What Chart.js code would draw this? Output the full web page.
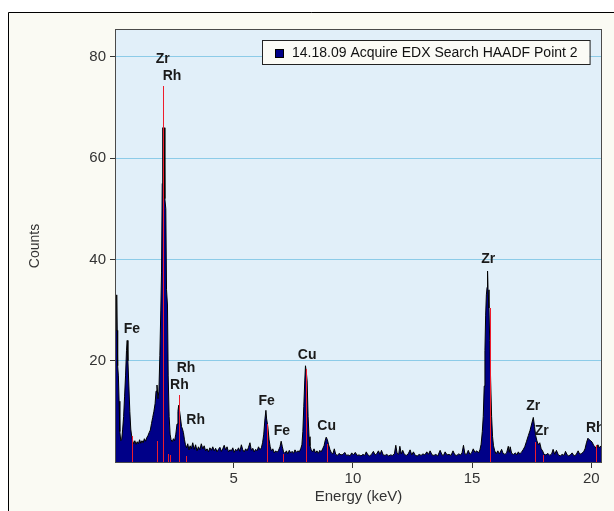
<!DOCTYPE html>
<html><head><meta charset="utf-8">
<script src="https://cdn.jsdelivr.net/npm/chart.js@4/dist/chart.umd.min.js"></script>
<style>html,body{margin:0;padding:0;background:#fff;overflow:hidden}
#wrap{position:absolute;left:0;top:0;width:614px;height:511px}</style>
</head><body><div id="wrap"><canvas id="c" width="614" height="511"></canvas></div>
<script>
// ---- data ----
const seriesName = '14.18.09 Acquire EDX Search HAADF Point 2';
const energyKeV = [0.06,0.08,0.10,0.11,0.13,0.16,0.19,0.22,0.26,0.30,0.34,0.38,0.42,0.46,0.50,0.53,0.56,0.60,0.64,0.68,0.72,0.76,0.80,0.85,0.90,0.95,1.00,1.05,1.10,1.15,1.20,1.25,1.30,1.35,1.40,1.45,1.50,1.55,1.60,1.65,1.70,1.74,1.78,1.82,1.86,1.90,1.94,1.97,2.00,2.02,2.08,2.11,2.15,2.18,2.22,2.25,2.29,2.33,2.37,2.42,2.47,2.52,2.57,2.62,2.66,2.69,2.73,2.77,2.81,2.85,2.89,2.93,2.97,3.02,3.07,3.12,3.17,3.22,3.28,3.34,3.40,3.46,3.52,3.58,3.64,3.70,3.76,3.82,3.88,3.94,4.00,4.06,4.12,4.18,4.24,4.30,4.36,4.42,4.48,4.54,4.60,4.66,4.72,4.78,4.84,4.90,4.96,5.02,5.08,5.14,5.20,5.26,5.32,5.38,5.44,5.50,5.56,5.62,5.68,5.74,5.80,5.86,5.92,5.98,6.04,6.10,6.16,6.21,6.26,6.31,6.35,6.38,6.43,6.48,6.53,6.58,6.64,6.70,6.76,6.82,6.88,6.94,6.99,7.04,7.09,7.15,7.21,7.27,7.33,7.39,7.45,7.51,7.57,7.63,7.69,7.75,7.81,7.86,7.90,7.94,7.98,8.01,8.05,8.08,8.12,8.16,8.20,8.25,8.31,8.37,8.43,8.49,8.55,8.61,8.67,8.73,8.79,8.84,8.88,8.93,8.98,9.04,9.10,9.16,9.22,9.28,9.35,9.42,9.50,9.58,9.66,9.73,9.80,9.88,9.95,10.02,10.10,10.18,10.26,10.34,10.42,10.50,10.56,10.63,10.70,10.78,10.86,10.93,11.00,11.07,11.14,11.20,11.27,11.35,11.42,11.50,11.58,11.66,11.74,11.80,11.85,11.92,11.97,12.03,12.09,12.16,12.24,12.32,12.40,12.47,12.54,12.62,12.70,12.78,12.86,12.94,13.02,13.10,13.17,13.24,13.32,13.40,13.48,13.56,13.66,13.74,13.80,13.87,13.95,14.03,14.12,14.20,14.28,14.36,14.44,14.52,14.58,14.64,14.70,14.77,14.84,14.91,14.98,15.05,15.12,15.20,15.27,15.33,15.38,15.43,15.47,15.51,15.54,15.57,15.60,15.63,15.65,15.67,15.71,15.74,15.78,15.82,15.86,15.90,15.95,16.01,16.08,16.15,16.24,16.30,16.38,16.45,16.52,16.56,16.60,16.66,16.74,16.82,16.88,16.94,17.00,17.07,17.14,17.21,17.28,17.36,17.43,17.50,17.57,17.62,17.67,17.72,17.78,17.84,17.90,17.96,18.02,18.10,18.18,18.26,18.34,18.40,18.47,18.54,18.62,18.70,18.78,18.86,18.92,18.99,19.06,19.14,19.20,19.28,19.36,19.45,19.52,19.60,19.68,19.74,19.80,19.86,19.92,19.98,20.04,20.10,20.16,20.22,20.28,20.34,20.41];
const counts = [26,26,33,26,19,17,12,6,4.2,4.5,6.5,9,13,17,22,24,20,15,10,6.5,5,4.2,3.6,4.2,3.5,4,3.6,4.4,3.7,4.2,3.8,4.6,4.1,4.8,5.2,5.8,6.3,7.6,8.8,10,11.5,14,15.2,12.5,14,21,30,37.5,55,66,66,52,50,34,31,17,9,5.5,4.4,4,4.6,4.2,5.5,7.5,10,11.2,10,8.5,7,6.5,5.8,4.5,3.5,2.8,3.6,2.4,3.2,2.6,3.8,2.5,3.4,2.2,3.0,2.4,3.6,2.6,3.2,2.2,2.6,2.0,2.8,2.3,3.0,2.2,2.7,2.0,2.5,2.9,2.1,2.6,3.3,2.4,3.0,2.0,2.4,2.2,2.8,1.9,2.5,2.2,2.8,2.1,3.4,2.4,2.0,2.6,2.2,2.9,3.8,2.3,2.7,2.0,2.5,2.2,3.0,2.4,2.8,3.8,5.5,8.5,10.2,8.5,7,4.5,3,2.2,2.6,1.8,2.2,1.9,2.3,3,4.1,3,2,1.7,2.2,1.6,2.3,1.8,2.1,1.7,2.4,1.9,2.2,2.0,2.6,3.4,6,11,16,19,17.5,16,9,5,3.2,2.4,2,2.6,1.8,2.2,1.7,2.3,2.0,2.6,3.2,4.3,4.9,4.4,3.4,2.4,1.8,1.6,2.6,1.5,1.3,1.7,1.4,1.5,1.9,1.3,1.4,1.2,1.8,1.4,1.9,1.3,1.4,1.2,1.5,1.3,2.0,1.4,1.2,1.5,2.1,1.4,1.6,2.2,1.5,2.3,1.4,1.3,1.5,1.2,1.4,1.3,1.6,3.3,1.8,1.5,3.1,1.6,2.3,1.5,1.3,1.6,2.4,1.4,2.0,1.3,1.2,1.5,1.3,1.6,1.4,2.0,1.5,2.2,1.4,1.3,1.5,1.2,2.3,1.4,1.3,2.0,1.4,1.5,1.3,2.2,1.4,1.3,1.6,1.4,1.8,3.3,1.6,1.5,2.3,1.5,1.8,2.6,1.9,2.2,1.8,2.4,3.5,6,9,15,22,29,33,34.5,37.7,34,30.4,24,16,9,5,3.2,2.2,1.6,2.2,1.6,2.5,1.7,1.5,1.8,3.1,1.9,3.0,1.7,1.5,1.8,1.4,2.0,1.6,1.9,2.4,3.0,4,5.2,6.2,7.5,8.8,7,5.2,4.2,3.4,3.8,2.6,2.2,1.5,1.4,1.7,1.3,1.6,2.5,1.5,2.3,1.4,1.2,1.5,1.3,2.1,1.4,1.2,1.5,1.8,1.2,1.4,2.2,1.5,1.7,2.0,2.6,3.8,4.7,4.4,4.2,3.9,3.3,3.0,2.6,3.4,2.8,3.2];
// element marker lines (keV, counts)
const markerEnergy = [0.72,1.79,2.05,2.24,2.33,2.70,3.00,6.40,7.05,8.05,8.90,15.77,17.62,17.96,20.21];
const markerHeight = [5.2,4.2,74.3,1.6,1.3,13.3,1.1,7.5,1.6,18.4,3.6,30.4,4.0,1.4,3.4];
// peak labels (text, keV, counts at label centre)
const peakNames  = ['Zr','Rh','Fe','Rh','Rh','Rh','Fe','Fe','Cu','Cu','Zr','Zr','Zr','Rh'];
const peakEnergy = [2.02,2.41,0.73,3.00,2.72,3.40,6.38,7.02,8.08,8.90,15.68,17.57,17.92,20.17];
const peakCounts = [79.6,76.2,26.3,18.6,15.1,8.2,12.1,6.1,21.1,7.0,40.0,11.1,6.1,6.6];
const xTickValues = [5,10,15,20];
const yTickValues = [20,40,60,80];

// ---- build ----
const FONT = "'Liberation Sans', Arial, Helvetica, sans-serif";
const spectrum = energyKeV.map((e,i)=>({x:e,y:counts[i]}));

const deco = {
  id:'deco',
  beforeDraw(chart){
    const {ctx, chartArea:a, width:W, height:H} = chart;
    ctx.save();
    ctx.fillStyle='#ffffff'; ctx.fillRect(0,0,W,H);
    ctx.fillStyle='#fafaf3'; ctx.fillRect(8,12,W,H);
    ctx.strokeStyle='#000'; ctx.lineWidth=1;
    ctx.beginPath(); ctx.moveTo(8.5,H); ctx.lineTo(8.5,12.5); ctx.lineTo(W,12.5); ctx.stroke();
    ctx.fillStyle='#e1eff9'; ctx.fillRect(a.left,a.top,a.right-a.left,a.bottom-a.top);
    ctx.restore();
  },
  afterDatasetsDraw(chart){
    const {ctx, chartArea:a, scales} = chart;
    ctx.save();
    ctx.beginPath(); ctx.rect(a.left,a.top,a.right-a.left,a.bottom-a.top); ctx.clip();
    // element marker lines
    ctx.strokeStyle='#ee1c2c'; ctx.lineWidth=1;
    markerEnergy.forEach((e,i)=>{
      const px = Math.round(scales.x.getPixelForValue(e))+0.5;
      const y0 = scales.y.getPixelForValue(0), y1 = Math.round(scales.y.getPixelForValue(markerHeight[i]));
      ctx.beginPath(); ctx.moveTo(px,y0); ctx.lineTo(px,y1); ctx.stroke();
    });
    // peak labels
    ctx.font = 'bold 14px '+FONT; ctx.fillStyle='#1a1a1a';
    ctx.textAlign='center'; ctx.textBaseline='middle';
    peakNames.forEach((t,i)=>{
      ctx.fillText(t, scales.x.getPixelForValue(peakEnergy[i]), scales.y.getPixelForValue(peakCounts[i]));
    });
    ctx.restore();
    ctx.save();
    ctx.strokeStyle='#4a4a4a'; ctx.lineWidth=1;
    ctx.strokeRect(Math.round(a.left)-0.5, Math.round(a.top)-0.5, Math.round(a.right-a.left)+1, Math.round(a.bottom-a.top)+1);
    ctx.restore();
  },
  afterDraw(chart){
    const {ctx, chartArea:a} = chart;
    ctx.save();
    ctx.font = '14px '+FONT;
    const tw = ctx.measureText(seriesName).width;
    const bw = 13+9+8+tw+12, bh = 24;
    const bx = Math.round(a.right - 11 - bw), by = Math.round(a.top + 10);
    ctx.fillStyle='#fbfbf6'; ctx.fillRect(bx,by,bw,bh);
    ctx.strokeStyle='#222'; ctx.lineWidth=1; ctx.strokeRect(bx+0.5,by+0.5,bw,bh);
    ctx.fillStyle='#000088'; ctx.fillRect(bx+13,by+9,9,9);
    ctx.strokeStyle='#000'; ctx.strokeRect(bx+13.5,by+9.5,8,8);
    ctx.fillStyle='#111'; ctx.textAlign='left'; ctx.textBaseline='middle';
    ctx.fillText(seriesName, bx+30, by+bh/2+1);
    ctx.restore();
  }
};

new Chart(document.getElementById('c'), {
  type:'line',
  data:{datasets:[
    {label:seriesName, data:spectrum, borderColor:'#000000', borderWidth:1, backgroundColor:'#000088', fill:'origin', pointRadius:0, tension:0}
  ]},
  options:{
    responsive:false, animation:false, devicePixelRatio:1,
    layout:{padding:{left:0,top:30,right:13,bottom:0}},
    plugins:{legend:{display:false}, tooltip:{enabled:false}},
    scales:{
      x:{type:'linear', min:0.06, max:20.41,
        afterBuildTicks(s){ s.ticks = xTickValues.map(v=>({value:v})); },
        afterFit(s){ s.height = 49; },
        grid:{drawOnChartArea:false, drawTicks:true, tickLength:6, tickColor:'#333'},
        border:{display:false},
        ticks:{font:{family:FONT,size:15}, color:'#333', padding:2, maxRotation:0, callback:v=>String(v)},
        title:{display:true, text:'Energy (keV)', font:{family:FONT,size:15}, color:'#333', padding:{top:0,bottom:5}}
      },
      y:{type:'linear', min:0, max:85.3,
        afterBuildTicks(s){ s.ticks = yTickValues.map(v=>({value:v})); },
        afterFit(s){ s.width = 116; },
        grid:{color:'#8ccbe8', drawTicks:true, tickLength:6, tickColor:'#333'},
        border:{display:false},
        ticks:{font:{family:FONT,size:15}, color:'#333', padding:4, callback:v=>String(v)},
        title:{display:true, text:'Counts', font:{family:FONT,size:14}, color:'#333', padding:{top:27,bottom:0}}
      }
    }
  },
  plugins:[deco]
});
</script></body></html>
